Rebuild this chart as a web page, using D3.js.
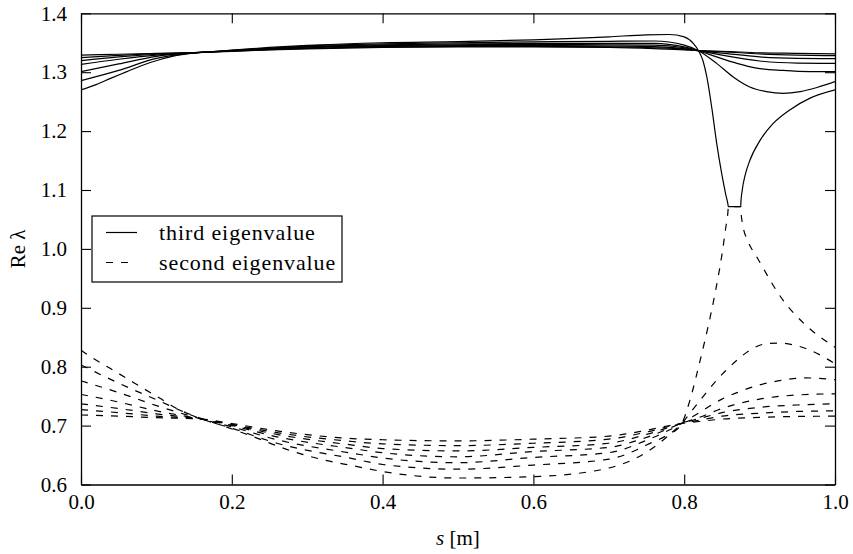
<!DOCTYPE html>
<html>
<head>
<meta charset="utf-8">
<script src="https://cdn.jsdelivr.net/npm/d3@7"></script>
<style>
    body { margin: 0; background: #fff; }
    text { fill: #000; }
</style>
</head>
<body>
<div id="chart"></div>
<script>
// third eigenvalue branches (solid lines), points are [s, Re lambda]
const third1 = [[0, 1.270], [0.02, 1.279], [0.04, 1.290], [0.06, 1.3005], [0.08, 1.311], [0.105, 1.3215], [0.127, 1.3285],
    [0.15, 1.3325], [0.175, 1.3350], [0.2, 1.3375], [0.25, 1.342], [0.3, 1.3455], [0.4, 1.350], [0.5, 1.352], [0.6, 1.355],
    [0.7, 1.360], [0.75, 1.3635], [0.78, 1.364], [0.8, 1.360], [0.812, 1.349], [0.819, 1.3365], [0.825, 1.319], [0.830, 1.292],
    [0.837, 1.236], [0.843, 1.180], [0.850, 1.126], [0.855, 1.093], [0.8583, 1.0735], [0.8585, 1.0717], [0.875, 1.0717],
    [0.8752, 1.079], [0.877, 1.100], [0.881, 1.126], [0.887, 1.150], [0.901, 1.185], [0.918, 1.213], [0.94, 1.236],
    [0.967, 1.256], [1.0, 1.270]];
const third2 = [[0, 1.2856], [0.05, 1.3030], [0.1, 1.3235], [0.15, 1.3327], [0.175, 1.3349], [0.2, 1.3370], [0.25, 1.3410],
    [0.3, 1.3445], [0.4, 1.3480], [0.5, 1.3500], [0.6, 1.3515], [0.7, 1.3525], [0.76, 1.353], [0.8, 1.346], [0.819, 1.3365],
    [0.843, 1.315], [0.865, 1.292], [0.887, 1.275], [0.909, 1.267], [0.931, 1.264], [0.954, 1.267], [0.976, 1.274], [1.0, 1.284]];
const third3 = [[0, 1.3008], [0.05, 1.3140], [0.1, 1.3270], [0.15, 1.3329], [0.175, 1.3348], [0.2, 1.3365], [0.25, 1.3400],
    [0.3, 1.3435], [0.4, 1.3465], [0.5, 1.3480], [0.6, 1.3488], [0.7, 1.3490], [0.76, 1.349], [0.8, 1.343], [0.819, 1.3365],
    [0.843, 1.326], [0.870, 1.315], [0.896, 1.307], [0.931, 1.303], [0.967, 1.301], [1.0, 1.301]];
const third4 = [[0, 1.3134], [0.05, 1.3220], [0.1, 1.3290], [0.15, 1.3330], [0.175, 1.3347], [0.2, 1.3362], [0.25, 1.3393],
    [0.3, 1.3425], [0.4, 1.3450], [0.5, 1.3465], [0.6, 1.3470], [0.7, 1.3465], [0.76, 1.346], [0.8, 1.3415], [0.819, 1.3365],
    [0.85, 1.329], [0.9, 1.319], [0.95, 1.3155], [1.0, 1.315]];
const third5 = [[0, 1.3195], [0.05, 1.3260], [0.1, 1.3305], [0.15, 1.3331], [0.175, 1.3345], [0.2, 1.3360], [0.25, 1.3388],
    [0.3, 1.3415], [0.4, 1.3440], [0.5, 1.3452], [0.6, 1.3455], [0.7, 1.3445], [0.76, 1.3435], [0.8, 1.340], [0.819, 1.3365],
    [0.85, 1.3325], [0.9, 1.326], [0.95, 1.3235], [1.0, 1.323]];
const third6 = [[0, 1.3246], [0.05, 1.3285], [0.1, 1.3315], [0.15, 1.3332], [0.175, 1.3344], [0.2, 1.3357], [0.25, 1.3383],
    [0.3, 1.3405], [0.4, 1.3430], [0.5, 1.3440], [0.6, 1.3440], [0.7, 1.3430], [0.76, 1.3415], [0.8, 1.339], [0.819, 1.3365],
    [0.85, 1.335], [0.9, 1.331], [0.95, 1.329], [1.0, 1.328]];
const third7 = [[0, 1.3290], [0.05, 1.3305], [0.1, 1.3320], [0.15, 1.3333], [0.175, 1.3343], [0.2, 1.3355], [0.25, 1.3378],
    [0.3, 1.3395], [0.4, 1.3420], [0.5, 1.3430], [0.6, 1.3430], [0.7, 1.3420], [0.76, 1.3400], [0.8, 1.338], [0.819, 1.3365],
    [0.85, 1.3355], [0.9, 1.333], [0.95, 1.332], [1.0, 1.331]];

// second eigenvalue branches (dashed lines)
const second1 = [[0, 0.828], [0.0163, 0.8142], [0.0385, 0.7972], [0.0606, 0.7802], [0.0826, 0.7632], [0.1048, 0.7463],
    [0.127, 0.729], [0.149, 0.717], [0.171, 0.707], [0.193, 0.6975], [0.215, 0.6875], [0.237, 0.677], [0.26, 0.6655],
    [0.28, 0.6565], [0.304, 0.6475], [0.326, 0.6405], [0.36, 0.632], [0.4, 0.622], [0.5, 0.611], [0.6, 0.6133], [0.7, 0.628],
    [0.755, 0.659], [0.78, 0.684], [0.797, 0.704], [0.808, 0.745], [0.821, 0.810], [0.832, 0.870], [0.841, 0.925],
    [0.850, 0.990], [0.855, 1.035], [0.8583, 1.068], [0.8585, 1.0717], [0.875, 1.0717], [0.8752, 1.066], [0.877, 1.045],
    [0.885, 1.012], [0.896, 0.987], [0.931, 0.913], [0.96, 0.872], [1.0, 0.833]];
const second2 = [[0, 0.803], [0.05, 0.772], [0.1, 0.744], [0.16, 0.711], [0.2, 0.6955], [0.26, 0.670], [0.36, 0.644],
    [0.4, 0.634], [0.5, 0.626], [0.6, 0.633], [0.7, 0.643], [0.75, 0.667], [0.797, 0.704], [0.81, 0.725], [0.825, 0.749],
    [0.843, 0.777], [0.870, 0.811], [0.887, 0.828], [0.909, 0.839], [0.927, 0.840], [0.945, 0.837], [0.967, 0.828], [1.0, 0.805]];
const second3 = [[0, 0.776], [0.05, 0.756], [0.1, 0.734], [0.16, 0.711], [0.2, 0.698], [0.26, 0.676], [0.36, 0.653],
    [0.4, 0.645], [0.5, 0.637], [0.6, 0.646], [0.7, 0.654], [0.75, 0.675], [0.797, 0.704], [0.82, 0.722], [0.85, 0.745],
    [0.87, 0.756], [0.9, 0.769], [0.93, 0.777], [0.96, 0.781], [1.0, 0.778]];
const second4 = [[0, 0.753], [0.05, 0.740], [0.1, 0.725], [0.16, 0.711], [0.2, 0.700], [0.26, 0.681], [0.36, 0.661],
    [0.4, 0.654], [0.5, 0.647], [0.6, 0.656], [0.7, 0.663], [0.75, 0.680], [0.797, 0.704], [0.82, 0.714], [0.85, 0.729],
    [0.9, 0.745], [0.95, 0.752], [1.0, 0.754]];
const second5 = [[0, 0.737], [0.05, 0.729], [0.1, 0.720], [0.16, 0.711], [0.2, 0.701], [0.26, 0.685], [0.36, 0.667],
    [0.4, 0.661], [0.5, 0.657], [0.6, 0.663], [0.7, 0.670], [0.75, 0.685], [0.797, 0.704], [0.82, 0.712], [0.85, 0.722],
    [0.9, 0.731], [0.95, 0.735], [1.0, 0.737]];
const second6 = [[0, 0.727], [0.05, 0.722], [0.1, 0.716], [0.16, 0.711], [0.2, 0.702], [0.26, 0.688], [0.36, 0.673],
    [0.4, 0.669], [0.5, 0.666], [0.6, 0.670], [0.7, 0.677], [0.75, 0.689], [0.797, 0.704], [0.82, 0.709], [0.85, 0.716],
    [0.9, 0.721], [0.95, 0.724], [1.0, 0.725]];
const second7 = [[0, 0.718], [0.05, 0.716], [0.1, 0.7135], [0.16, 0.711], [0.2, 0.7035], [0.26, 0.691], [0.36, 0.678],
    [0.4, 0.676], [0.5, 0.674], [0.6, 0.677], [0.7, 0.682], [0.75, 0.692], [0.797, 0.704], [0.82, 0.707], [0.85, 0.711],
    [0.9, 0.714], [0.95, 0.7155], [1.0, 0.716]];

const thirdBranches = [third1, third2, third3, third4, third5, third6, third7];
const secondBranches = [second1, second2, second3, second4, second5, second6, second7];

const xTicks = [0, 0.2, 0.4, 0.6, 0.8, 1.0];
const yTicks = [0.6, 0.7, 0.8, 0.9, 1.0, 1.1, 1.2, 1.3, 1.4];
const legendLabels = ["third eigenvalue", "second eigenvalue"];

const serif = "Liberation Serif";

const totalWidth = 853;
const totalHeight = 554;
const margin = { top: 13.3, right: 18, bottom: 69.5, left: 81 };
const width = totalWidth - margin.left - margin.right;
const height = totalHeight - margin.top - margin.bottom;

const svg = d3.select("#chart")
    .append("svg")
    .attr("width", totalWidth)
    .attr("height", totalHeight)
    .append("g")
    .attr("transform", `translate(${margin.left}, ${margin.top})`);

const xScale = d3.scaleLinear().domain([0, 1]).range([0, width]);
const yScale = d3.scaleLinear().domain([0.6, 1.4]).range([height, 0]);

svg.append("clipPath")
    .attr("id", "plotClip")
    .append("rect")
    .attr("width", width)
    .attr("height", height);

const line = d3.line()
    .x((d) => xScale(d[0]))
    .y((d) => yScale(d[1]))
    .curve(d3.curveMonotoneX);

const plot = svg.append("g").attr("clip-path", "url(#plotClip)");

plot.selectAll(".third")
    .data(thirdBranches)
    .enter()
    .append("path")
    .attr("class", "third")
    .attr("fill", "none")
    .attr("stroke", "#000")
    .attr("stroke-width", 1.2)
    .attr("d", line);

plot.selectAll(".second")
    .data(secondBranches)
    .enter()
    .append("path")
    .attr("class", "second")
    .attr("fill", "none")
    .attr("stroke", "#000")
    .attr("stroke-width", 1.2)
    .attr("stroke-dasharray", "7,8")
    .attr("d", line);

// axes, ticks point inwards on all four sides
const fmt = d3.format(".1f");

svg.append("g")
    .attr("class", "axis")
    .attr("transform", `translate(0, ${height})`)
    .call(d3.axisBottom(xScale).tickValues(xTicks).tickFormat(fmt).tickSize(-10).tickSizeOuter(0).tickPadding(10));

svg.append("g")
    .attr("class", "axis")
    .call(d3.axisLeft(yScale).tickValues(yTicks).tickFormat(fmt).tickSize(-10).tickSizeOuter(0).tickPadding(14));

svg.append("g")
    .attr("class", "axis")
    .call(d3.axisTop(xScale).tickValues(xTicks).tickFormat("").tickSize(-10).tickSizeOuter(0));

svg.append("g")
    .attr("class", "axis")
    .attr("transform", `translate(${width}, 0)`)
    .call(d3.axisRight(yScale).tickValues(yTicks).tickFormat("").tickSize(-10).tickSizeOuter(0));

svg.selectAll(".axis").attr("font-family", serif);
svg.selectAll(".axis .domain").attr("stroke", "#000").attr("stroke-width", 1.3);
svg.selectAll(".axis .tick line").attr("stroke", "#000").attr("stroke-width", 1.1);
svg.selectAll(".axis text")
    .attr("font-family", serif)
    .attr("font-size", 21)
    .attr("fill", "#000");

// axis titles
const xLabel = svg.append("text")
    .attr("x", width / 2)
    .attr("y", height + 61)
    .attr("font-family", serif)
    .attr("text-anchor", "middle")
    .attr("font-size", 21);
xLabel.append("tspan").attr("font-style", "italic").text("s");
xLabel.append("tspan").text(" [m]");

svg.append("text")
    .attr("transform", `translate(${-margin.left + 25}, ${height / 2}) rotate(-90)`)
    .attr("font-family", serif)
    .attr("text-anchor", "middle")
    .attr("font-size", 21)
    .text("Re λ");

// legend
const legend = svg.append("g")
    .attr("transform", `translate(${92 - margin.left}, ${216 - margin.top})`);

legend.append("rect")
    .attr("width", 250)
    .attr("height", 66)
    .attr("fill", "#fff")
    .attr("stroke", "#000")
    .attr("stroke-width", 1.2);

const legendItems = legend.selectAll(".legendItem")
    .data(legendLabels)
    .enter()
    .append("g")
    .attr("class", "legendItem")
    .attr("transform", (d, i) => `translate(0, ${16.5 + i * 30})`);

legendItems.append("line")
    .attr("x1", 14)
    .attr("x2", (d, i) => (i === 0 ? 45 : 37))
    .attr("stroke", "#000")
    .attr("stroke-width", 1.2)
    .attr("stroke-dasharray", (d, i) => (i === 0 ? null : "7,8"));

legendItems.append("text")
    .attr("x", 67)
    .attr("y", 7)
    .attr("font-family", serif)
    .attr("font-size", 22)
    .attr("letter-spacing", 0.9)
    .text((d) => d);
</script>
</body>
</html>
